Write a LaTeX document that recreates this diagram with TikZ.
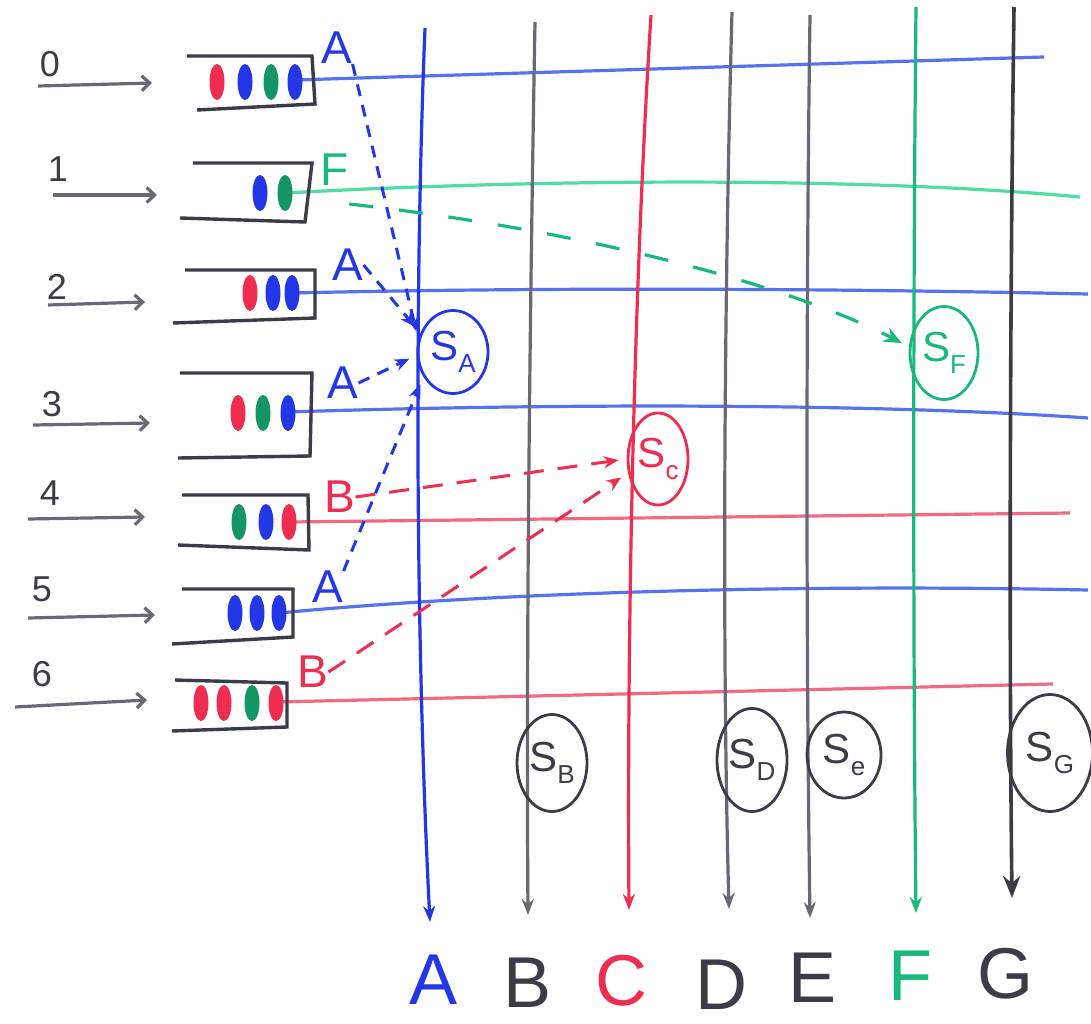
\documentclass[tikz,border=0pt]{standalone}
\usepackage{fontspec}
\setmainfont{Liberation Sans}
\usetikzlibrary{arrows.meta,shapes.geometric}
\definecolor{cblue}{RGB}{35,55,230}
\definecolor{lblue}{RGB}{85,115,240}
\definecolor{cred}{RGB}{238,45,80}
\definecolor{lred}{RGB}{242,105,130}
\definecolor{cgreen}{RGB}{25,185,125}
\definecolor{lgreen}{RGB}{80,220,165}
\definecolor{dgreen}{RGB}{20,150,100}
\definecolor{cgray}{RGB}{60,60,72}
\definecolor{lgray}{RGB}{105,105,118}
\newcommand{\fs}[1]{\fontsize{#1}{#1}\selectfont}
\newcommand{\Slab}[1]{{\fs{42}S}\raisebox{-12pt}{\fs{26}#1}}
\newcommand{\qdot}[3]{\fill[#1] (#2,#3) ellipse [x radius=7.5, y radius=18];}
\begin{document}
\begin{tikzpicture}[x=1pt,y=-1pt,
  vline/.style={line width=3.2pt,-{Stealth[length=16pt,width=12pt]}},
  hline/.style={line width=3.2pt},
  qbox/.style={draw=cgray,line width=3.4pt},
  inarr/.style={draw=lgray,line width=3.2pt,-{Straight Barb[length=8pt,width=15pt]}},
  num/.style={text=cgray,font=\fs{36},inner sep=0pt},
  qlab/.style={font=\fs{46},inner sep=0pt},
  collab/.style={font=\fs{72},inner sep=0pt},
  snode/.style={ellipse,draw,line width=2.8pt,inner sep=0pt},
  dashA/.style={line width=3pt,dash pattern=on 12pt off 9pt,-{Stealth[length=15pt,width=12pt]},shorten >=8pt},
  dashB/.style={line width=3pt,dash pattern=on 20pt off 14pt,-{Stealth[length=15pt,width=12pt]},shorten >=8pt},
  dashG/.style={line width=3.2pt,dash pattern=on 24pt off 26pt,-{Stealth[length=18pt,width=15pt]},shorten >=8pt}
]
\fill[white] (0,0) rectangle (1091,1024);
\path[use as bounding box] (0,0) rectangle (1091,1024);

% ---- coordinates of the grid ----
\coordinate (At) at (425,28);  \coordinate (Ab) at (430,922);
\coordinate (Bt) at (535,22);  \coordinate (Bb) at (528,915);
\coordinate (Ct) at (651,15);  \coordinate (Cb) at (629,910);
\coordinate (Dt) at (732,12);  \coordinate (Db) at (729,909);
\coordinate (Et) at (810,15);  \coordinate (Eb) at (810,918);
\coordinate (Ft) at (916,7);   \coordinate (Fb) at (916,913);
\coordinate (Gt) at (1014,7);  \coordinate (Gb) at (1012,898);

\coordinate (q0) at (295,80);  \coordinate (r0) at (1044,57);
\coordinate (q1) at (285,193); \coordinate (r1) at (1080,197);
\coordinate (q2) at (292,293); \coordinate (r2) at (1088,294);
\coordinate (q3) at (288,412); \coordinate (r3) at (1088,418);
\coordinate (q4) at (289,522); \coordinate (r4) at (1070,513);
\coordinate (q5) at (279,613); \coordinate (r5) at (1088,590);
\coordinate (q6) at (276,702); \coordinate (r6) at (1053,684);

% ---- horizontal lines ----
\draw[hline,lblue]  (q0) -- (r0);
\draw[hline,lgreen] (q1) .. controls (600,176) and (900,180) .. (r1);
\draw[hline,lblue]  (q2) .. controls (600,286) and (900,290) .. (r2);
\draw[hline,lblue]  (q3) .. controls (600,402) and (900,405) .. (r3);
\draw[hline,lred]   (q4) -- (r4);
\draw[hline,lblue]  (q5) .. controls (500,592) and (800,584) .. (r5);
\draw[hline,lred]   (q6) -- (r6);

% ---- vertical lines ----
\draw[vline,cblue] (At) .. controls (414,300) and (416,650) .. (Ab);
\draw[vline,lgray] (Bt) .. controls (530,300) and (526,650) .. (Bb);
\draw[vline,cred]  (Ct) .. controls (633,300) and (627,650) .. (Cb);
\draw[vline,lgray] (Dt) .. controls (724,300) and (722,650) .. (Db);
\draw[vline,lgray] (Et) .. controls (806,300) and (806,650) .. (Eb);
\draw[vline,cgreen] (Ft) .. controls (913,300) and (913,650) .. (Fb);
\draw[line width=3.6pt,cgray,-{Stealth[length=22pt,width=17pt]}] (Gt) .. controls (1010,300) and (1009,650) .. (Gb);

% ---- queues ----
\draw[qbox] (187,56) -- (312,56) -- (315,104) -- (197,110);
\draw[qbox] (193,163) -- (312,163) -- (305,222) -- (180,218);
\draw[qbox] (185,270) -- (315,270) -- (315,318) -- (173,323);
\draw[qbox] (180,373) -- (312,373) -- (310,456) -- (178,458);
\draw[qbox] (182,495) -- (308,495) -- (309,550) -- (178,545);
\draw[qbox] (182,589) -- (293,589) -- (293,637) -- (172,644);
\draw[qbox] (175,680) -- (287,683) -- (287,727) -- (172,731);

\qdot{cred}{217}{82}\qdot{cblue}{245}{82}\qdot{dgreen}{271}{82}\qdot{cblue}{295}{82}
\qdot{cblue}{260}{193}\qdot{dgreen}{285}{193}
\qdot{cred}{250}{293}\qdot{cblue}{273}{293}\qdot{cblue}{292}{293}
\qdot{cred}{238}{413}\qdot{dgreen}{263}{413}\qdot{cblue}{288}{413}
\qdot{dgreen}{239}{522}\qdot{cblue}{266}{522}\qdot{cred}{289}{522}
\qdot{cblue}{235}{613}\qdot{cblue}{257}{613}\qdot{cblue}{279}{613}
\qdot{cred}{201}{703}\qdot{cred}{224}{703}\qdot{dgreen}{252}{703}\qdot{cred}{276}{703}

% ---- inputs ----
\node[num] (n0) at (50,64) {0};
\node[num] (n1) at (58,169) {1};
\node[num] (n2) at (57,287) {2};
\node[num] (n3) at (52,404) {3};
\node[num] (n4) at (50,493) {4};
\node[num] (n5) at (42,589) {5};
\node[num] (n6) at (42,674) {6};
\coordinate (i0) at (38,86);  \coordinate (j0) at (152,83);
\coordinate (i1) at (53,195); \coordinate (j1) at (157,195);
\coordinate (i2) at (48,305); \coordinate (j2) at (145,302);
\coordinate (i3) at (33,425); \coordinate (j3) at (150,423);
\coordinate (i4) at (28,519); \coordinate (j4) at (145,517);
\coordinate (i5) at (28,618); \coordinate (j5) at (155,615);
\coordinate (i6) at (15,707); \coordinate (j6) at (147,700);
\foreach \k in {0,...,6} {\draw[inarr] (i\k) -- (j\k);}

% ---- queue head labels ----
\node[qlab,text=cblue]  (lA0) at (337,48)  {A};
\node[qlab,text=cgreen] (lF1) at (335,170) {F};
\node[qlab,text=cblue]  (lA2) at (348,265) {A};
\node[qlab,text=cblue]  (lA3) at (343,383) {A};
\node[qlab,text=cred]   (lB4) at (340,497) {B};
\node[qlab,text=cblue]  (lA5) at (328,587) {A};
\node[qlab,text=cred]   (lB6) at (313,672) {B};

% ---- S nodes ----
\node[snode,draw=cblue,text=cblue,minimum width=70pt,minimum height=83pt] (SA) at (453,352) {\Slab{A}};
\node[snode,draw=cred,text=cred,minimum width=60pt,minimum height=92pt] (SC) at (658,459) {\Slab{c}};
\node[snode,draw=cgreen,text=cgreen,minimum width=68pt,minimum height=93pt] (SF) at (944,353) {\Slab{F}};
\node[snode,draw=cgray,text=cgray,minimum width=70pt,minimum height=97pt] (SB) at (552,763) {\Slab{B}};
\node[snode,draw=cgray,text=cgray,minimum width=70pt,minimum height=103pt] (SD) at (752,760) {\Slab{D}};
\node[snode,draw=cgray,text=cgray,minimum width=74pt,minimum height=86pt] (SE) at (844,755) {\Slab{e}};
\node[snode,draw=cgray,text=cgray,minimum width=85pt,minimum height=117pt] (SG) at (1050,753) {\Slab{G}};

% ---- dashed requests ----
\draw[dashA,cblue] (lA0.south east) -- (SA.160);
\draw[dashA,cblue] (lA2.east) -- (SA.150);
\draw[dashA,cblue] (lA3.east) -- (SA.185);
\draw[dashA,cblue] (lA5.north east) -- (SA.220);
\draw[dashB,cred] (lB4.east) -- (SC.180);
\draw[dashB,cred] (lB6.east) -- (SC.205);
\draw[dashG,cgreen] ([yshift=-18pt]lF1.south east) .. controls (600,232) and (800,290) .. (SF.170);

% ---- column labels ----
\node[collab,text=cblue]  (cA) at (434,980) {A};
\node[collab,text=cgray]  (cB) at (528,983) {B};
\node[collab,text=cred]   (cC) at (621,981) {C};
\node[collab,text=cgray]  (cD) at (721,985) {D};
\node[collab,text=cgray]  (cE) at (812,978) {E};
\node[collab,text=cgreen] (cF) at (910,976) {F};
\node[collab,text=cgray]  (cG) at (1005,974) {G};
\end{tikzpicture}
\end{document}
